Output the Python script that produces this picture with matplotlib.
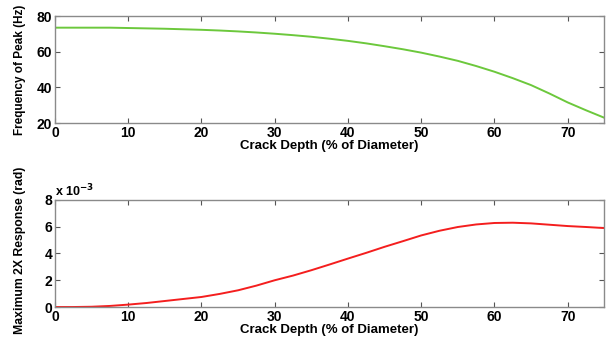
import numpy as np
import matplotlib.pyplot as plt

# crack depth (% of diameter)
depth = [0, 2.5, 5, 7.5, 10, 12.5, 15, 17.5, 20, 22.5, 25, 27.5, 30, 32.5, 35,
         37.5, 40, 42.5, 45, 47.5, 50, 52.5, 55, 57.5, 60, 62.5, 65, 67.5, 70,
         72.5, 75]

# frequency of peak (Hz)
freq_peak = [73.5, 73.5, 73.5, 73.5, 73.3, 73.1, 72.9, 72.6, 72.3, 71.9, 71.4,
             70.8, 70.1, 69.3, 68.4, 67.3, 66.1, 64.7, 63.1, 61.4, 59.5, 57.3,
             54.9, 52.0, 48.8, 45.2, 41.3, 36.6, 31.6, 27.2, 23.0]

# maximum 2X response (x 1e-3 rad)
resp_2x = [0.0, 0.0, 0.02, 0.08, 0.18, 0.3, 0.45, 0.6, 0.75, 0.98, 1.25, 1.6,
           2.0, 2.35, 2.75, 3.18, 3.62, 4.05, 4.5, 4.92, 5.35, 5.7, 5.98, 6.17,
           6.28, 6.3, 6.25, 6.15, 6.05, 5.98, 5.9]

plt.rcParams['font.family'] = ['Liberation Sans', 'DejaVu Sans']
plt.rcParams['font.weight'] = 'bold'
plt.rcParams['font.size'] = 9.5

fig = plt.figure(figsize=(6.07, 3.42), dpi=100)
ax1 = fig.add_axes([0.0906, 0.640, 0.905, 0.313])
ax2 = fig.add_axes([0.0906, 0.1023, 0.905, 0.313])

ax1.plot(depth, freq_peak, color='#6cc83c', lw=1.4)
ax2.plot(depth, resp_2x, color='#f41e1e', lw=1.4)

ax1.set_ylim(20, 80)
ax1.set_yticks([20, 40, 60, 80])
ax1.set_ylabel('Frequency of Peak (Hz)', fontweight='bold', fontsize=8.5)
ax1.yaxis.set_label_coords(-0.052, 0.5)

ax2.set_ylim(0, 8)
ax2.set_yticks([0, 2, 4, 6, 8])
ax2.set_ylabel('Maximum 2X Response (rad)', fontweight='bold', fontsize=8.8)
ax2.yaxis.set_label_coords(-0.052, 0.53)
ax2.text(0.0, 1.005, r'x 10$^{\mathbf{-3}}$', transform=ax2.transAxes,
         fontsize=9, fontweight='bold', va='bottom', ha='left')

for ax in (ax1, ax2):
    ax.set_xlim(0, 75)
    ax.set_xticks(np.arange(0, 80, 10))
    ax.set_xlabel('Crack Depth (% of Diameter)', fontweight='bold', labelpad=0)
    ax.tick_params(direction='in', top=True, right=True, length=3.5,
                   width=0.8, color='#555555', pad=2, labelsize=10)
    for lab in ax.get_xticklabels() + ax.get_yticklabels():
        lab.set_fontweight('bold')
    for sp in ax.spines.values():
        sp.set_color('#8a8a8a')
        sp.set_linewidth(1.0)

fig.savefig('out.png', dpi=100)
